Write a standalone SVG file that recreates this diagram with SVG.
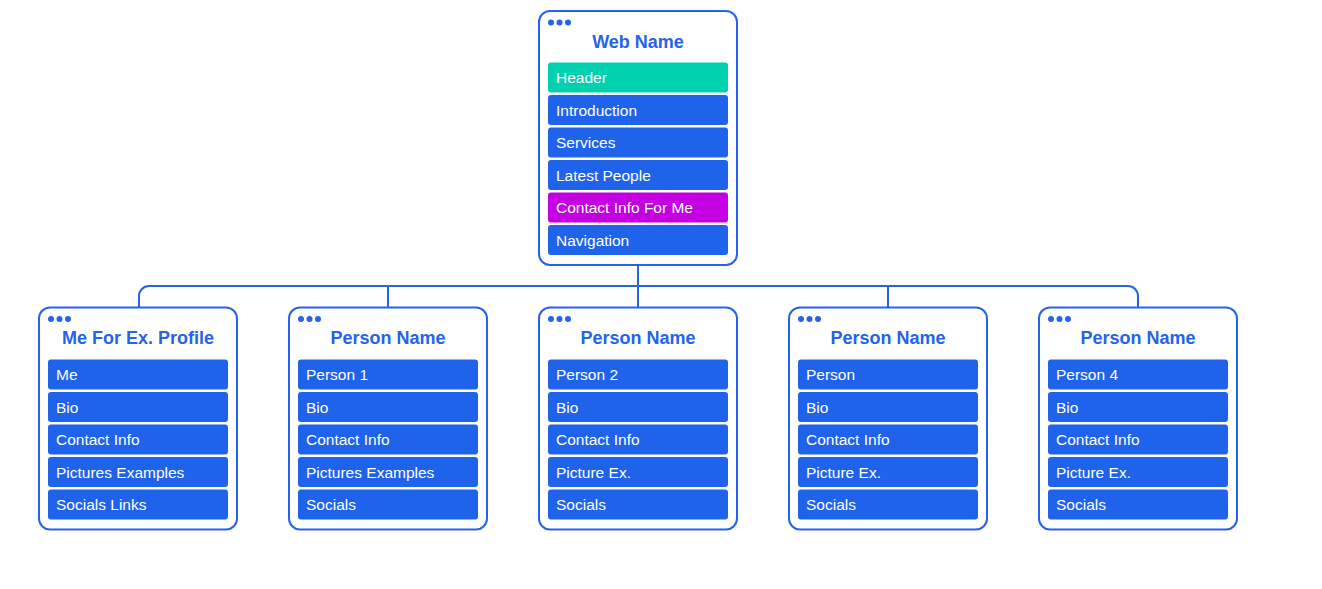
<svg xmlns="http://www.w3.org/2000/svg" width="1322" height="589" viewBox="0 0 1322 589">
<style>
.card{fill:#ffffff;stroke:#2563eb;stroke-width:2}
.dot{fill:#2563eb}
.title{font-family:"Liberation Sans",Arial,sans-serif;font-weight:bold;font-size:18px;fill:#2563eb;text-anchor:middle}
.row{fill:#1f63ea}
.teal{fill:#00d1ae}
.mag{fill:#c400e2}
.lbl{font-family:"Liberation Sans",Arial,sans-serif;font-size:15.5px;fill:#ffffff}
.conn{fill:none;stroke:#2563eb;stroke-width:2}
</style>
<rect width="1322" height="589" fill="#ffffff"/>
<g id="connectors">
<path class="conn" d="M638 265 V286"/>
<path class="conn" d="M139 307 V296 A10 10 0 0 1 149 286 H1128 A10 10 0 0 1 1138 296 V307"/>
<path class="conn" d="M388 286 V307"/>
<path class="conn" d="M638 286 V307"/>
<path class="conn" d="M888 286 V307"/>
</g>
<g id="web-name">
<rect class="card" x="539" y="11" width="198" height="254" rx="11"/>
<circle class="dot" cx="551" cy="22.5" r="3"/><circle class="dot" cx="559.5" cy="22.5" r="3"/><circle class="dot" cx="568" cy="22.5" r="3"/>
<text class="title" x="638" y="48">Web Name</text>
<rect class="teal" x="548" y="62.5" width="180" height="30" rx="3"/><text class="lbl" x="556" y="83">Header</text>
<rect class="row" x="548" y="95" width="180" height="30" rx="3"/><text class="lbl" x="556" y="115.5">Introduction</text>
<rect class="row" x="548" y="127.5" width="180" height="30" rx="3"/><text class="lbl" x="556" y="148">Services</text>
<rect class="row" x="548" y="160" width="180" height="30" rx="3"/><text class="lbl" x="556" y="180.5">Latest People</text>
<rect class="mag" x="548" y="192.5" width="180" height="30" rx="3"/><text class="lbl" x="556" y="213">Contact Info For Me</text>
<rect class="row" x="548" y="225" width="180" height="30" rx="3"/><text class="lbl" x="556" y="245.5">Navigation</text>
</g>
<g id="me-profile">
<rect class="card" x="39" y="307.5" width="198" height="222" rx="11"/>
<circle class="dot" cx="51" cy="319" r="3"/><circle class="dot" cx="59.5" cy="319" r="3"/><circle class="dot" cx="68" cy="319" r="3"/>
<text class="title" x="138" y="344">Me For Ex. Profile</text>
<rect class="row" x="48" y="359.5" width="180" height="30" rx="3"/><text class="lbl" x="56" y="380">Me</text>
<rect class="row" x="48" y="392" width="180" height="30" rx="3"/><text class="lbl" x="56" y="412.5">Bio</text>
<rect class="row" x="48" y="424.5" width="180" height="30" rx="3"/><text class="lbl" x="56" y="445">Contact Info</text>
<rect class="row" x="48" y="457" width="180" height="30" rx="3"/><text class="lbl" x="56" y="477.5">Pictures Examples</text>
<rect class="row" x="48" y="489.5" width="180" height="30" rx="3"/><text class="lbl" x="56" y="510">Socials Links</text>
</g>
<g id="person-1">
<rect class="card" x="289" y="307.5" width="198" height="222" rx="11"/>
<circle class="dot" cx="301" cy="319" r="3"/><circle class="dot" cx="309.5" cy="319" r="3"/><circle class="dot" cx="318" cy="319" r="3"/>
<text class="title" x="388" y="344">Person Name</text>
<rect class="row" x="298" y="359.5" width="180" height="30" rx="3"/><text class="lbl" x="306" y="380">Person 1</text>
<rect class="row" x="298" y="392" width="180" height="30" rx="3"/><text class="lbl" x="306" y="412.5">Bio</text>
<rect class="row" x="298" y="424.5" width="180" height="30" rx="3"/><text class="lbl" x="306" y="445">Contact Info</text>
<rect class="row" x="298" y="457" width="180" height="30" rx="3"/><text class="lbl" x="306" y="477.5">Pictures Examples</text>
<rect class="row" x="298" y="489.5" width="180" height="30" rx="3"/><text class="lbl" x="306" y="510">Socials</text>
</g>
<g id="person-2">
<rect class="card" x="539" y="307.5" width="198" height="222" rx="11"/>
<circle class="dot" cx="551" cy="319" r="3"/><circle class="dot" cx="559.5" cy="319" r="3"/><circle class="dot" cx="568" cy="319" r="3"/>
<text class="title" x="638" y="344">Person Name</text>
<rect class="row" x="548" y="359.5" width="180" height="30" rx="3"/><text class="lbl" x="556" y="380">Person 2</text>
<rect class="row" x="548" y="392" width="180" height="30" rx="3"/><text class="lbl" x="556" y="412.5">Bio</text>
<rect class="row" x="548" y="424.5" width="180" height="30" rx="3"/><text class="lbl" x="556" y="445">Contact Info</text>
<rect class="row" x="548" y="457" width="180" height="30" rx="3"/><text class="lbl" x="556" y="477.5">Picture Ex.</text>
<rect class="row" x="548" y="489.5" width="180" height="30" rx="3"/><text class="lbl" x="556" y="510">Socials</text>
</g>
<g id="person-3">
<rect class="card" x="789" y="307.5" width="198" height="222" rx="11"/>
<circle class="dot" cx="801" cy="319" r="3"/><circle class="dot" cx="809.5" cy="319" r="3"/><circle class="dot" cx="818" cy="319" r="3"/>
<text class="title" x="888" y="344">Person Name</text>
<rect class="row" x="798" y="359.5" width="180" height="30" rx="3"/><text class="lbl" x="806" y="380">Person</text>
<rect class="row" x="798" y="392" width="180" height="30" rx="3"/><text class="lbl" x="806" y="412.5">Bio</text>
<rect class="row" x="798" y="424.5" width="180" height="30" rx="3"/><text class="lbl" x="806" y="445">Contact Info</text>
<rect class="row" x="798" y="457" width="180" height="30" rx="3"/><text class="lbl" x="806" y="477.5">Picture Ex.</text>
<rect class="row" x="798" y="489.5" width="180" height="30" rx="3"/><text class="lbl" x="806" y="510">Socials</text>
</g>
<g id="person-4">
<rect class="card" x="1039" y="307.5" width="198" height="222" rx="11"/>
<circle class="dot" cx="1051" cy="319" r="3"/><circle class="dot" cx="1059.5" cy="319" r="3"/><circle class="dot" cx="1068" cy="319" r="3"/>
<text class="title" x="1138" y="344">Person Name</text>
<rect class="row" x="1048" y="359.5" width="180" height="30" rx="3"/><text class="lbl" x="1056" y="380">Person 4</text>
<rect class="row" x="1048" y="392" width="180" height="30" rx="3"/><text class="lbl" x="1056" y="412.5">Bio</text>
<rect class="row" x="1048" y="424.5" width="180" height="30" rx="3"/><text class="lbl" x="1056" y="445">Contact Info</text>
<rect class="row" x="1048" y="457" width="180" height="30" rx="3"/><text class="lbl" x="1056" y="477.5">Picture Ex.</text>
<rect class="row" x="1048" y="489.5" width="180" height="30" rx="3"/><text class="lbl" x="1056" y="510">Socials</text>
</g>
</svg>
